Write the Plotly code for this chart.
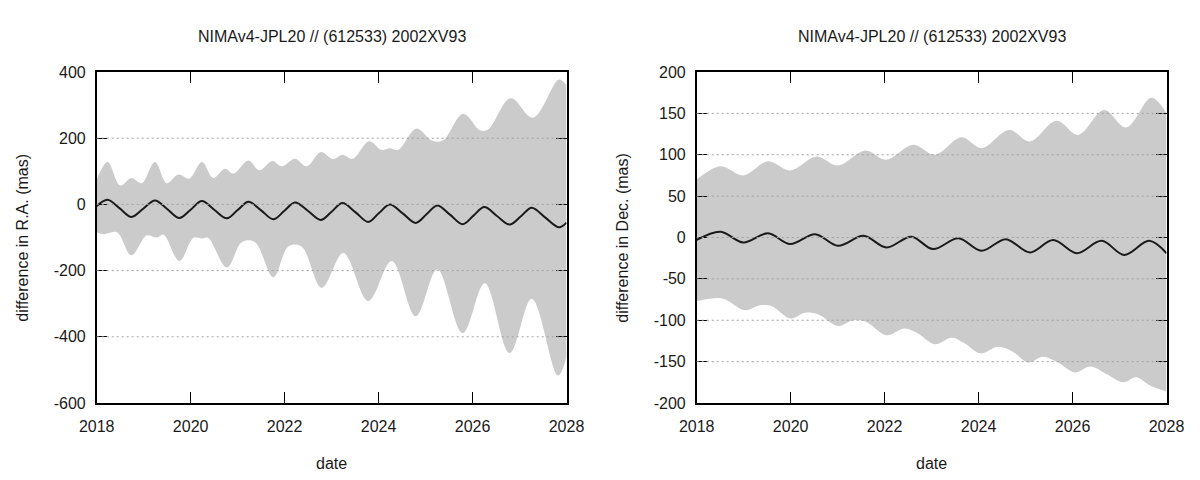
import plotly.graph_objects as go

# ---------------- data ----------------
TITLE = "NIMAv4-JPL20 // (612533) 2002XV93"

# R.A. panel
ra_up_t = [2018.00, 2018.23, 2018.50, 2018.74, 2018.96, 2019.24, 2019.49, 2019.74, 2019.97,
           2020.24, 2020.48, 2020.73, 2020.91, 2021.23, 2021.46, 2021.74, 2021.94, 2022.22,
           2022.47, 2022.77, 2023.03, 2023.23, 2023.45, 2023.80, 2024.06, 2024.24, 2024.42,
           2024.81, 2025.13, 2025.37, 2025.80, 2026.16, 2026.33, 2026.81, 2027.29, 2027.84, 2028.00]
ra_up_v = [75, 128, 57, 80, 64, 128, 64, 90, 78,
           128, 80, 108, 93, 133, 103, 131, 115, 138,
           115, 158, 137, 150, 138, 191, 165, 170, 165,
           229, 193, 193, 274, 224, 226, 321, 262, 377, 360]

ra_lo_t = [2018.00, 2018.15, 2018.43, 2018.74, 2019.06, 2019.28, 2019.42, 2019.76, 2020.06,
           2020.23, 2020.37, 2020.77, 2021.09, 2021.37, 2021.76, 2022.08, 2022.36, 2022.79,
           2023.25, 2023.78, 2024.28, 2024.79, 2025.25, 2025.79, 2026.26, 2026.79, 2027.26,
           2027.82, 2028.00]
ra_lo_v = [-84, -90, -84, -154, -94, -100, -91, -171, -101,
           -103, -101, -191, -114, -114, -220, -127, -127, -252,
           -147, -292, -171, -338, -197, -389, -238, -449, -285,
           -517, -461]

ra_t = [2018.00, 2018.23, 2018.49, 2018.74, 2018.99, 2019.24, 2019.50, 2019.76, 2020.00,
        2020.24, 2020.50, 2020.77, 2021.00, 2021.23, 2021.50, 2021.76, 2021.99, 2022.22,
        2022.50, 2022.77, 2023.00, 2023.23, 2023.51, 2023.78, 2024.01, 2024.24, 2024.52,
        2024.79, 2025.02, 2025.25, 2025.52, 2025.79, 2026.02, 2026.25, 2026.52, 2026.79,
        2027.03, 2027.26, 2027.55, 2027.84, 2028.00]
ra_v = [-5, 14, -12, -38, -13, 12, -14, -41, -16,
        10, -16, -42, -17, 8, -18, -45, -20, 6,
        -20, -47, -22, 4, -24, -53, -26, 0, -28,
        -56, -30, -3, -31, -60, -34, -8, -35, -61,
        -36, -10, -40, -69, -55]

# Dec. panel
de_up_t = [2018.00, 2018.51, 2018.99, 2019.52, 2019.99, 2020.55, 2021.01, 2021.59, 2022.03,
           2022.61, 2023.07, 2023.64, 2024.06, 2024.65, 2025.09, 2025.66, 2026.12, 2026.67,
           2027.14, 2027.68, 2028.00]
de_up_v = [70, 86, 75, 92, 81, 98, 87, 105, 94,
           112, 100, 121, 108, 130, 116, 141, 124, 154,
           133, 169, 150]

de_lo_t = [2018.00, 2018.28, 2018.57, 2019.03, 2019.35, 2019.60, 2020.00, 2020.30, 2020.59,
           2021.01, 2021.33, 2021.61, 2022.04, 2022.43, 2022.71, 2023.07, 2023.43, 2023.71,
           2024.04, 2024.42, 2024.73, 2025.05, 2025.37, 2025.69, 2026.05, 2026.38, 2026.72,
           2027.08, 2027.36, 2027.65, 2028.00]
de_lo_v = [-77, -74, -74, -88, -82, -83, -98, -91, -93,
           -107, -100, -102, -118, -110, -116, -129, -121, -128,
           -140, -132, -138, -151, -144, -151, -163, -156, -165,
           -175, -169, -179, -186]

de_t = [2018.00, 2018.51, 2018.99, 2019.52, 2019.99, 2020.52, 2021.01, 2021.55, 2022.04,
        2022.57, 2023.03, 2023.57, 2024.06, 2024.58, 2025.09, 2025.59, 2026.09, 2026.62,
        2027.10, 2027.63, 2028.00]
de_v = [-3, 7, -6, 5, -8, 4, -10, 2, -12,
        1, -14, -1, -16, -2, -18, -3, -19, -4,
        -21, -4, -19]

x_ticks = [2018, 2020, 2022, 2024, 2026, 2028]
x_labels = ["2018", "2020", "2022", "2024", "2026", "2028"]
ra_ticks = [-600, -400, -200, 0, 200, 400]
ra_labels = ["-600", "-400", "-200", "0", "200", "400"]
de_ticks = [-200, -150, -100, -50, 0, 50, 100, 150, 200]
de_labels = ["-200", "-150", "-100", "-50", "0", "50", "100", "150", "200"]

# ---------------- styling ----------------
FONT = "Liberation Sans, Arial, sans-serif"
TXT = "#1a1a1a"
FILL = "#cbcbcb"
LINE = "#1a1a1a"

# the page body adds an 8px margin, so the figure is 1192x472
W, H = 1192, 472
OFF = 8

fig = go.Figure()

def add_panel(xa, ya, up_t, up_v, lo_t, lo_v, t, v):
    fig.add_trace(go.Scatter(x=lo_t, y=lo_v, mode="lines", line=dict(width=0, shape="spline", color=FILL),
                             xaxis=xa, yaxis=ya, showlegend=False, hoverinfo="skip"))
    fig.add_trace(go.Scatter(x=up_t, y=up_v, mode="lines", line=dict(width=0, shape="spline", color=FILL),
                             fill="tonexty", fillcolor=FILL,
                             xaxis=xa, yaxis=ya, showlegend=False, hoverinfo="skip"))
    fig.add_trace(go.Scatter(x=t, y=v, mode="lines", line=dict(width=2, shape="spline", color=LINE),
                             xaxis=xa, yaxis=ya, showlegend=False))

add_panel("x", "y", ra_up_t, ra_up_v, ra_lo_t, ra_lo_v, ra_t, ra_v)
add_panel("x2", "y2", de_up_t, de_up_v, de_lo_t, de_lo_v, de_t, de_v)

dom1 = [(96.7 - OFF) / W, (566.5 - OFF) / W]
dom2 = [(696.7 - OFF) / W, (1166.5 - OFF) / W]

def xaxis(dom, anchor):
    return dict(domain=dom, anchor=anchor, range=[x_ticks[0], x_ticks[-1]],
                tickmode="array", tickvals=x_ticks, ticktext=x_labels,
                ticks="inside", ticklen=11, tickwidth=1, tickcolor="#000",
                showline=True, linecolor="#000", linewidth=1.5, mirror="ticks",
                showgrid=False, zeroline=False, ticklabelstandoff=8, automargin=False,
                tickfont=dict(family=FONT, size=16, color=TXT))

def yaxis(ticks, labels, anchor):
    return dict(anchor=anchor, domain=[0, 1], range=[ticks[0], ticks[-1]],
                tickmode="array", tickvals=ticks, ticktext=labels,
                ticks="inside", ticklen=11, tickwidth=1, tickcolor="#000",
                showline=True, linecolor="#000", linewidth=1.5, mirror="ticks",
                showgrid=False, zeroline=False, ticklabelstandoff=6, automargin=False,
                tickfont=dict(family=FONT, size=16, color=TXT))

top_m = 72 - OFF
bot_m = H - (403 - OFF)
fig.update_layout(
    width=W, height=H,
    margin=dict(l=0, r=0, t=top_m, b=bot_m),
    paper_bgcolor="white", plot_bgcolor="white",
    font=dict(family=FONT, size=16, color=TXT),
    xaxis=xaxis(dom1, "y"), yaxis=yaxis(ra_ticks, ra_labels, "x"),
    xaxis2=xaxis(dom2, "y2"), yaxis2=yaxis(de_ticks, de_labels, "x2"),
)

# dotted horizontal grid above the fill
for ya, xa, ticks in (("y", "x", ra_ticks), ("y2", "x2", de_ticks)):
    for tv in ticks[1:-1]:
        fig.add_shape(type="line", xref=xa + " domain", yref=ya, x0=0, x1=1, y0=tv, y1=tv,
                      line=dict(color="#a0a0a0", width=1, dash="2px,3px"), layer="above")

plot_h = H - top_m - bot_m
for dom, ytitle in ((dom1, "difference in R.A. (mas)"), (dom2, "difference in Dec. (mas)")):
    cx = (dom[0] + dom[1]) / 2
    fig.add_annotation(text=TITLE, xref="paper", yref="paper", x=cx, y=1 + 36 / plot_h,
                       xanchor="center", yanchor="middle", showarrow=False,
                       font=dict(family=FONT, size=16, color=TXT))
    fig.add_annotation(text="date", xref="paper", yref="paper", x=cx, y=-60 / plot_h,
                       xanchor="center", yanchor="middle", showarrow=False,
                       font=dict(family=FONT, size=16, color=TXT))
    fig.add_annotation(text=ytitle, xref="paper", yref="paper", x=dom[0] - 74.5 / W, y=0.5,
                       xanchor="center", yanchor="middle", textangle=-90, showarrow=False,
                       font=dict(family=FONT, size=16, color=TXT))

fig.write_html("out.html")
